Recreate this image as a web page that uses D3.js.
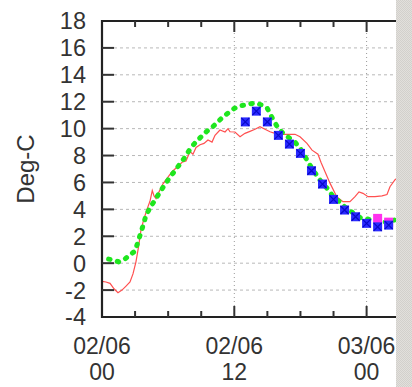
<!DOCTYPE html>
<html><head><meta charset="utf-8">
<script src="https://cdn.jsdelivr.net/npm/d3@7"></script>
<style>html,body{margin:0;padding:0;background:#fff;}svg{display:block;}</style>
</head><body>
<script>
// Hours since 02/06 00
const xTickLabels = [["02/06","00"],["02/06","12"],["03/06","00"]];
const xMajorTicks = [0, 12, 24];
const xMinorTicks = [3, 6, 9, 15, 18, 21];
const yTicks = [-4,-2,0,2,4,6,8,10,12,14,16,18];
const yLabel = "Deg-C";

const redHours = [0,0.36,0.73,1.09,1.45,1.81,2.18,2.54,2.81,3.08,3.31,3.54,3.81,4.08,4.35,4.56,4.72,4.9,5.17,5.53,5.9,6.35,6.89,7.26,7.62,7.98,8.25,8.53,8.89,9.25,9.61,9.98,10.25,10.7,11.16,11.43,11.61,12.06,12.52,12.97,13.42,13.88,14.33,14.78,15.24,15.69,16.42,17.51,17.96,18.59,19.05,19.59,19.86,20.23,20.68,21.29,21.86,22.49,22.95,23.31,23.67,24.13,24.76,25.4,25.85,26.12,26.58,26.9];
const redValues = [-1.35,-1.4,-1.5,-1.9,-2.2,-2.0,-1.7,-1.4,-0.8,0.1,1.2,2.5,3.3,4.0,4.6,5.4,5.0,4.8,5.3,5.9,6.3,6.8,7.2,7.5,7.6,8.3,8.1,8.6,8.8,8.9,9.15,9.0,9.5,9.9,9.75,10.0,9.77,9.75,9.4,9.65,9.8,9.95,10.15,9.95,9.77,9.65,9.58,9.58,9.4,8.9,8.4,8.1,7.5,6.8,5.95,4.94,4.57,4.57,4.94,5.3,5.19,4.94,4.94,5.0,5.1,5.68,6.2,6.4];

const greenHours = [0.6,1.0,1.5,2.0,2.5,3.0,3.5,3.8,4.0,4.5,5.0,5.5,6.0,6.5,7.0,7.5,8.0,8.5,9.0,9.5,10.0,10.5,11.0,11.5,12.0,12.5,13.0,13.5,14.0,14.5,15.0,15.5,16.0,16.5,17.0,17.5,18.0,18.5,19.0,19.5,20.0,20.5,21.0,21.5,22.0,22.5,23.0,23.5,24.0,24.5,25.0,25.5,26.0,26.5];
const greenValues = [0.3,0.25,0.1,0.25,0.6,0.9,2.2,3.0,3.6,4.3,4.95,5.6,6.2,6.75,7.3,7.85,8.5,9.0,9.4,9.8,10.1,10.5,10.9,11.2,11.5,11.7,11.75,11.85,11.9,11.75,11.5,10.7,10.0,9.6,9.3,9.0,8.5,7.8,7.1,6.5,5.9,5.5,4.9,4.6,4.2,3.9,3.6,3.35,3.3,3.2,3.15,3.05,3.1,3.2];

const blueHours = [13,14,15,16,17,18,19,20,21,22,23,24,25,26];
const blueValues = [10.5,11.3,10.5,9.5,8.85,8.16,6.87,5.88,4.74,3.95,3.45,2.96,2.7,2.83];

const magentaHours = [25,26];
const magentaValues = [3.33,3.05];

const W = 412, H = 387;
const svg = d3.select("body").append("svg").attr("width", W).attr("height", H);

const defs = svg.append("defs");
const pat = defs.append("pattern").attr("id","tex").attr("width",2).attr("height",2).attr("patternUnits","userSpaceOnUse");
pat.append("rect").attr("width",2).attr("height",2).attr("fill","#e2e0dc");
pat.append("rect").attr("width",1).attr("height",1).attr("fill","#d2d0cc");
pat.append("rect").attr("x",1).attr("y",1).attr("width",1).attr("height",1).attr("fill","#d2d0cc");
defs.append("clipPath").attr("id","clip").append("rect").attr("x",102).attr("y",21).attr("width",294).attr("height",296);

const x = d3.scaleLinear().domain([0, 27]).range([102, 102 + 27*11.025]);
const y = d3.scaleLinear().domain([-4, 18]).range([317, 21]);

const font = "'Liberation Sans', Arial, Helvetica, sans-serif";
const txtColor = "#333";

// grid
const grid = svg.append("g").attr("clip-path","url(#clip)");
grid.selectAll("line.h").data(yTicks.filter(v => v > -4 && v < 18)).enter().append("line")
  .attr("x1", x(0)).attr("x2", 400).attr("y1", d => y(d)).attr("y2", d => y(d))
  .attr("stroke", "#b8b8b8").attr("stroke-width", 1).attr("stroke-dasharray", "3,3");
grid.selectAll("line.v").data(xMajorTicks.filter(v => v > 0)).enter().append("line")
  .attr("x1", d => x(d)).attr("x2", d => x(d)).attr("y1", y(18)).attr("y2", y(-4))
  .attr("stroke", "#999").attr("stroke-width", 1).attr("stroke-dasharray", "1,3");

// data
const plot = svg.append("g").attr("clip-path","url(#clip)");
const line = d3.line().x(d => x(d[0])).y(d => y(d[1]));
plot.append("path").datum(d3.zip(redHours, redValues)).attr("d", line)
  .attr("fill","none").attr("stroke","#ff5050").attr("stroke-width",1.2);

plot.append("path").datum(d3.zip(greenHours, greenValues)).attr("d", line)
  .attr("fill","none").attr("stroke","#1ee61e").attr("stroke-width",5)
  .attr("stroke-linecap","round").attr("stroke-dasharray","1.5,7.5");

plot.selectAll("rect.m").data(d3.zip(magentaHours, magentaValues)).enter().append("rect")
  .attr("x", d => x(d[0]) - 4.5).attr("y", d => y(d[1]) - 4.5).attr("width", 9).attr("height", 9).attr("fill", "#ff30ee");

const blueG = plot.selectAll("g.b").data(d3.zip(blueHours, blueValues)).enter().append("g")
  .attr("transform", d => `translate(${x(d[0])},${y(d[1])})`);
blueG.append("rect").attr("x",-4.5).attr("y",-4.5).attr("width",9).attr("height",9).attr("fill","#2a2aff");
blueG.append("path").attr("d","M-4,-4L4,4M4,-4L-4,4").attr("stroke","#0808c8").attr("stroke-width",1.2);

// frame
const frame = svg.append("g").attr("stroke","#222").attr("stroke-width",2.2).attr("fill","none");
frame.append("line").attr("x1",x(0)).attr("x2",x(0)).attr("y1",y(18)-1).attr("y2",y(-4)+1);
frame.append("line").attr("x1",x(0)).attr("x2",400).attr("y1",y(18)).attr("y2",y(18));
frame.append("line").attr("x1",x(0)).attr("x2",400).attr("y1",y(-4)).attr("y2",y(-4));

// y ticks (inward)
svg.append("g").selectAll("line").data(yTicks.filter(v => v > -4 && v < 18)).enter().append("line")
  .attr("x1", x(0)).attr("x2", x(0) + 12).attr("y1", d => y(d)).attr("y2", d => y(d))
  .attr("stroke","#333").attr("stroke-width",2);
// x ticks bottom and top
const tk = svg.append("g").attr("stroke","#333").attr("stroke-width",2);
xMinorTicks.forEach(t => {
  tk.append("line").attr("x1",x(t)).attr("x2",x(t)).attr("y1",y(-4)).attr("y2",y(-4)-6);
  tk.append("line").attr("x1",x(t)).attr("x2",x(t)).attr("y1",y(18)).attr("y2",y(18)+6);
});
xMajorTicks.filter(t => t > 0).forEach(t => {
  tk.append("line").attr("x1",x(t)).attr("x2",x(t)).attr("y1",y(-4)).attr("y2",y(-4)-11);
  tk.append("line").attr("x1",x(t)).attr("x2",x(t)).attr("y1",y(18)).attr("y2",y(18)+11);
});

// y labels
svg.append("g").selectAll("text").data(yTicks).enter().append("text")
  .attr("x", 86).attr("y", d => y(d)).attr("dy","0.36em").attr("text-anchor","end")
  .attr("font-family", font).attr("font-size", 23.5).attr("fill", txtColor).text(d => d);

// x labels (two separate lines)
const xl = svg.append("g");
xMajorTicks.forEach((t, i) => {
  xl.append("text").attr("x", x(t)).attr("y", 353.5).attr("text-anchor","middle")
    .attr("font-family", font).attr("font-size", 23).attr("fill", txtColor).text(xTickLabels[i][0]);
  xl.append("text").attr("x", x(t)).attr("y", 379.5).attr("text-anchor","middle")
    .attr("font-family", font).attr("font-size", 23).attr("fill", txtColor).text(xTickLabels[i][1]);
});

// y axis title
svg.append("text").attr("transform","translate(34,169) rotate(-90)").attr("text-anchor","middle")
  .attr("font-family", font).attr("font-size", 24).attr("fill", txtColor).text(yLabel);

// right textured stripe
svg.append("rect").attr("x",396).attr("y",0).attr("width",16).attr("height",H).attr("fill","url(#tex)");
</script>
</body></html>
